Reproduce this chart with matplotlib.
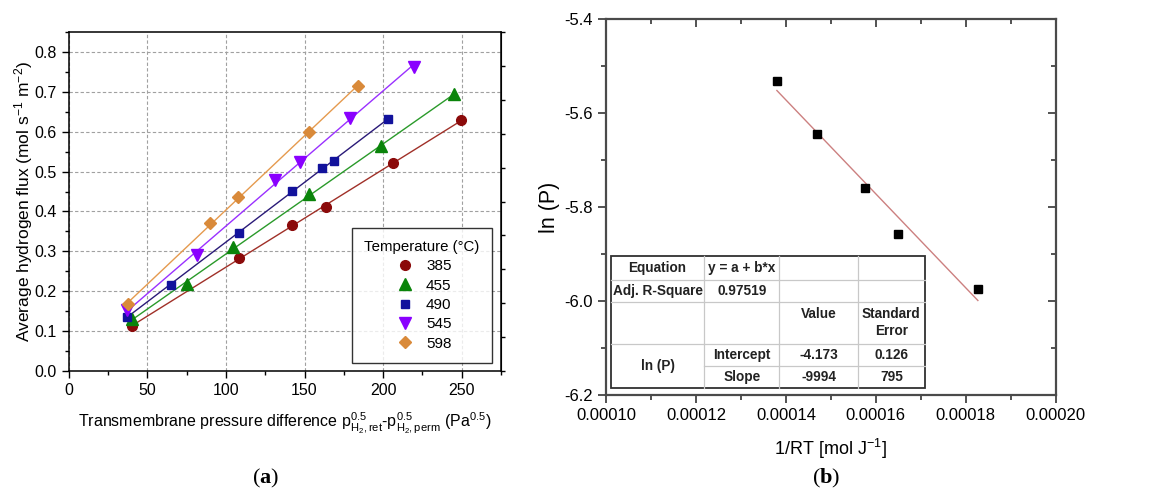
import numpy as np
import matplotlib.pyplot as plt
from matplotlib.ticker import MultipleLocator, NullFormatter
from matplotlib.lines import Line2D

plt.rcParams['font.family'] = ['Liberation Sans', 'DejaVu Sans']
plt.rcParams['mathtext.fontset'] = 'custom'
plt.rcParams['mathtext.rm'] = 'Liberation Sans'
plt.rcParams['mathtext.it'] = 'Liberation Sans:italic'
plt.rcParams['mathtext.bf'] = 'Liberation Serif:bold'

# ---- panel (a): hydrogen flux vs pressure difference ----
temps = ['385', '455', '490', '545', '598']
x_385 = [40.4, 108.1, 142.1, 163.4, 206.5, 249.6]
y_385 = [0.112, 0.284, 0.366, 0.410, 0.522, 0.629]
x_455 = [40.2, 75.2, 104.7, 153.0, 198.9, 245.2]
y_455 = [0.129, 0.218, 0.310, 0.444, 0.565, 0.694]
x_490 = [37.2, 64.8, 108.1, 142.3, 161.2, 168.5, 203.3]
y_490 = [0.136, 0.215, 0.347, 0.451, 0.510, 0.527, 0.632]
x_545 = [37.2, 81.4, 131.3, 147.4, 178.7, 219.5]
y_545 = [0.152, 0.291, 0.478, 0.524, 0.635, 0.764]
x_598 = [37.4, 90.1, 107.9, 152.8, 183.8]
y_598 = [0.167, 0.370, 0.436, 0.599, 0.715]

series_x = [x_385, x_455, x_490, x_545, x_598]
series_y = [y_385, y_455, y_490, y_545, y_598]
marker_colors = ['#8b0a0a', '#0a840a', '#12129c', '#8a00ff', '#d98a3a']
line_colors = ['#a03028', '#2a9a2a', '#2a1a78', '#9a30ff', '#e59a4e']
markers = ['o', '^', 's', 'v', 'D']
msizes = [7, 8, 6, 8, 6]

# ---- panel (b): Arrhenius plot ----
inv_rt = [0.0001380, 0.0001469, 0.0001575, 0.0001650, 0.0001827]
ln_p = [-5.532, -5.645, -5.759, -5.857, -5.974]
fit_intercept = -4.173
fit_slope = -9994

table_rows = [
    ['Equation', 'y = a + b*x', '', ''],
    ['Adj. R-Square', '0.97519', '', ''],
    ['', '', 'Value', 'Standard\nError'],
    ['ln (P)', 'Intercept', '-4.173', '0.126'],
    ['', 'Slope', '-9994', '795'],
]

fig = plt.figure(figsize=(11.55, 4.95), dpi=100)

# ================= panel (a) =================
ax1 = fig.add_axes([0.0595, 0.2511, 0.3743, 0.6836])
for i in range(len(temps)):
    xs = np.array(series_x[i])
    ys = np.array(series_y[i])
    k, b = np.polyfit(xs, ys, 1)
    xl = np.array([xs.min(), xs.max()])
    ax1.plot(xl, k * xl + b, color=line_colors[i], lw=1.0, zorder=2)
    ax1.plot(xs, ys, ls='none', marker=markers[i], ms=msizes[i],
             color=marker_colors[i], mec=marker_colors[i], label=temps[i], zorder=3)

ax1.set_xlim(0, 275)
ax1.set_ylim(0, 0.85)
ax1.xaxis.set_major_locator(MultipleLocator(50))
ax1.xaxis.set_minor_locator(MultipleLocator(25))
ax1.yaxis.set_major_locator(MultipleLocator(0.1))
ax1.yaxis.set_minor_locator(MultipleLocator(0.05))
ax1.yaxis.set_major_formatter(plt.FormatStrFormatter('%.1f'))
ax1.tick_params(which='both', direction='out', labelsize=11.5, width=1.0, top=False, right=False)
ax1.tick_params(which='major', length=5)
ax1.tick_params(which='minor', length=3)
ax1.grid(True, which='major', ls=(0, (3, 2)), color='#a0a0a0', lw=0.8)
for s in ax1.spines.values():
    s.set_linewidth(1.1)
    s.set_color('black')

sec = ax1.secondary_yaxis('right')
sec.set_yticks(np.arange(0, 0.851, 0.085))
sec.yaxis.set_major_formatter(NullFormatter())
sec.tick_params(direction='out', length=3, width=1.0)

ax1.set_ylabel(r'Average hydrogen flux (mol s$^{-1}$ m$^{-2}$)', fontsize=12.5, labelpad=0)
ax1.set_xlabel(r'Transmembrane pressure difference $\mathrm{p}^{0.5}_{\mathrm{H_2,ret}}$'
               r'-$\mathrm{p}^{0.5}_{\mathrm{H_2,perm}}$ (Pa$^{0.5}$)', fontsize=11.5, labelpad=10)

leg = ax1.legend(title='Temperature (°C)', loc='lower right', bbox_to_anchor=(0.979, 0.023),
                 fontsize=11, title_fontsize=10.8, frameon=True, fancybox=False,
                 edgecolor='black', labelspacing=0.35, handletextpad=0.6,
                 borderpad=0.8, handlelength=1.6, borderaxespad=0)
leg.get_frame().set_linewidth(1.0)

# ================= panel (b) =================
ax2 = fig.add_axes([0.5247, 0.2020, 0.3893, 0.7596])
xfit = np.array([min(inv_rt), max(inv_rt)])
ax2.plot(xfit, fit_intercept + fit_slope * xfit, color='#cc8080', lw=1.0, zorder=2)
ax2.plot(inv_rt, ln_p, ls='none', marker='s', ms=5.5, color='black', zorder=3)

ax2.set_xlim(0.0001, 0.0002)
ax2.set_ylim(-6.2, -5.4)
ax2.xaxis.set_major_locator(MultipleLocator(0.00002))
ax2.xaxis.set_minor_locator(MultipleLocator(0.00001))
ax2.yaxis.set_major_locator(MultipleLocator(0.2))
ax2.yaxis.set_minor_locator(MultipleLocator(0.1))
ax2.xaxis.set_major_formatter(plt.FormatStrFormatter('%.5f'))
ax2.yaxis.set_major_formatter(plt.FormatStrFormatter('%.1f'))
ax2.tick_params(which='both', direction='out', color='#444444', width=1.3,
                labelsize=12, top=False, right=False)
ax2.tick_params(which='major', length=6)
ax2.tick_params(which='minor', length=3.5)
for s in ax2.spines.values():
    s.set_linewidth(1.6)
    s.set_color('#4a4a4a')

top = ax2.secondary_xaxis('top')
top.xaxis.set_major_locator(MultipleLocator(0.00002))
top.xaxis.set_minor_locator(MultipleLocator(0.00001))
top.xaxis.set_major_formatter(NullFormatter())
top.tick_params(which='both', direction='in', color='#444444', width=1.3)
top.tick_params(which='major', length=6)
top.tick_params(which='minor', length=3.5)
top.spines['top'].set_visible(False)
rgt = ax2.secondary_yaxis('right')
rgt.yaxis.set_major_locator(MultipleLocator(0.2))
rgt.yaxis.set_minor_locator(MultipleLocator(0.1))
rgt.yaxis.set_major_formatter(NullFormatter())
rgt.tick_params(which='both', direction='in', color='#444444', width=1.3)
rgt.tick_params(which='major', length=6)
rgt.tick_params(which='minor', length=3.5)
rgt.spines['right'].set_visible(False)

ax2.set_ylabel('ln (P)', fontsize=15.5, labelpad=3)
ax2.set_xlabel(r'1/RT [mol J$^{-1}$]', fontsize=13, labelpad=10)

# fit-result table drawn in axes fraction coordinates
col_edges = [0.0105, 0.2186, 0.3854, 0.5597, 0.7094]
row_edges = [0.3697, 0.3059, 0.2465, 0.1356, 0.0771, 0.0178]
grey = '#c8c8c8'
tr = ax2.transAxes
ax2.add_patch(plt.Rectangle((col_edges[0], row_edges[-1]), col_edges[-1] - col_edges[0],
                            row_edges[0] - row_edges[-1], transform=tr, facecolor='white',
                            edgecolor='#303030', lw=1.3, zorder=5))
for xe in col_edges[1:-1]:
    ax2.add_line(Line2D([xe, xe], [row_edges[-1], row_edges[0]], transform=tr,
                        color=grey, lw=0.9, zorder=6))
for j, ye in enumerate(row_edges[1:-1], start=1):
    x0 = col_edges[1] if j == 4 else col_edges[0]
    ax2.add_line(Line2D([x0, col_edges[-1]], [ye, ye], transform=tr,
                        color=grey, lw=0.9, zorder=6))
for r, row in enumerate(table_rows):
    for c, txt in enumerate(row):
        if not txt:
            continue
        xc = (col_edges[c] + col_edges[c + 1]) / 2
        if r == 3 and c == 0:
            yc = (row_edges[3] + row_edges[5]) / 2
            va = 'center'
        elif r == 2:
            yc = row_edges[2] - 0.012
            va = 'top'
        else:
            yc = (row_edges[r] + row_edges[r + 1]) / 2
            va = 'center'
        ax2.text(xc, yc, txt, transform=tr, ha='center', va=va, fontsize=9.8,
                 fontweight='bold', color='#222222', linespacing=1.25, zorder=7)

# captions
fig.text(266 / 1155, 1 - 478 / 495, r'($\mathbf{a}$)', ha='center', va='center',
         fontsize=16, family='Liberation Serif')
fig.text(826 / 1155, 1 - 478 / 495, r'($\mathbf{b}$)', ha='center', va='center',
         fontsize=16, family='Liberation Serif')

fig.savefig('out.png', dpi=100)
